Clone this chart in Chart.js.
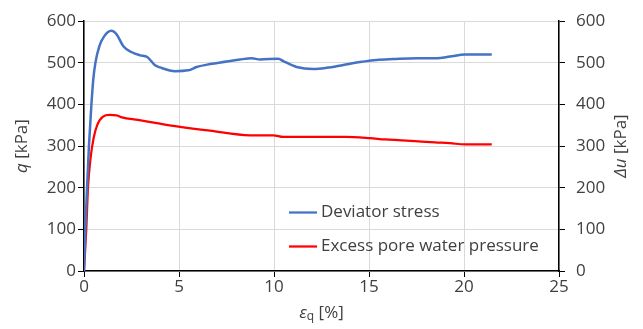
<!DOCTYPE html>
<html>
<head>
<meta charset="utf-8">
<script src="https://cdn.jsdelivr.net/npm/chart.js@4.4.1/dist/chart.umd.min.js"></script>
<style>
  html, body { margin: 0; padding: 0; background: #fff; }
  #wrap { width: 643px; height: 329px; position: relative; }
</style>
</head>
<body>
<div id="wrap"><canvas id="c" width="643" height="329"></canvas></div>
<script>
// Undrained triaxial test: deviator stress and excess pore water pressure vs shear strain
const strainDev = [0, 0.07, 0.16, 0.26, 0.39, 0.49, 0.6, 0.81, 1.05, 1.44, 1.72, 2.07, 2.49, 2.95, 3.33, 3.74, 4.0, 4.79, 5.49, 5.93, 6.63, 7.51, 8.21, 8.83, 9.26, 10.23, 10.49, 11.19, 12.07, 12.77, 13.65, 14.53, 15.4, 16.28, 17.51, 18.56, 19.26, 20.05, 21.46];
const deviatorStress = [0, 100, 200, 300, 400, 461, 500, 540, 563, 577, 568, 540, 526, 518, 514, 494, 489, 480, 482, 490, 497, 503, 508, 511, 508, 510, 504, 490, 485, 488, 495, 502, 507, 509, 511, 511, 515, 520, 520];

const strainPore = [0, 0.12, 0.21, 0.35, 0.51, 0.7, 1.0, 1.35, 1.72, 2.0, 2.84, 4.0, 4.97, 6.63, 8.74, 9.96, 10.49, 13.74, 15.05, 15.84, 16.72, 17.42, 18.47, 19.26, 20.05, 21.46];
const porePressure = [0, 100, 200, 273, 320, 351, 371, 375, 374, 369, 363, 354, 347, 337, 326, 326, 322, 322, 319, 316, 314, 312, 309, 307, 304, 304];

const xTicks = [0, 5, 10, 15, 20, 25];
const yTicks = [0, 100, 200, 300, 400, 500, 600];

const seriesLabels = ['Deviator stress', 'Excess pore water pressure'];
const seriesColors = ['#4472C4', '#FF0000'];

const FONT = 'Open Sans';
const TEXT = '#404040';
const FS = 17;

const toPoints = (xs, ys) => xs.map((x, i) => ({ x: x, y: ys[i] }));

// Axis titles with italic symbols and legend drawn inside the plot area
const annotations = {
  id: 'annotations',
  afterDraw(chart) {
    const ctx = chart.ctx;
    const area = chart.chartArea;
    ctx.save();
    ctx.fillStyle = TEXT;
    ctx.textBaseline = 'middle';

    const drawRuns = (runs, cx, cy, rot) => {
      ctx.save();
      ctx.translate(cx, cy);
      ctx.rotate(rot);
      let total = 0;
      runs.forEach(r => { ctx.font = r.font; total += ctx.measureText(r.text).width; });
      let x = -total / 2;
      ctx.textAlign = 'left';
      runs.forEach(r => {
        ctx.font = r.font;
        ctx.fillText(r.text, x, r.dy || 0);
        x += ctx.measureText(r.text).width;
      });
      ctx.restore();
    };

    const midY = (area.top + area.bottom) / 2;
    const midX = (area.left + area.right) / 2;
    drawRuns([
      { text: 'q', font: 'italic ' + FS + 'px ' + FONT },
      { text: ' [kPa]', font: FS + 'px ' + FONT }
    ], 22, midY, -Math.PI / 2);
    drawRuns([
      { text: 'Δu', font: 'italic ' + FS + 'px ' + FONT },
      { text: ' [kPa]', font: FS + 'px ' + FONT }
    ], 621, midY, -Math.PI / 2);
    drawRuns([
      { text: 'ε', font: 'italic ' + FS + 'px ' + FONT },
      { text: 'q', font: '12px ' + FONT, dy: 4 },
      { text: ' [%]', font: FS + 'px ' + FONT }
    ], midX, 313, 0);

    // legend
    const legendRows = [212.5, 246.5];
    chart.data.datasets.forEach((ds, i) => {
      const y = legendRows[i];
      ctx.strokeStyle = ds.borderColor;
      ctx.lineWidth = 2.25;
      ctx.beginPath();
      ctx.moveTo(289, y);
      ctx.lineTo(317, y);
      ctx.stroke();
      ctx.font = FS + 'px ' + FONT;
      ctx.textAlign = 'left';
      ctx.fillStyle = TEXT;
      ctx.fillText(ds.label, 321, y);
    });
    ctx.restore();
  }
};

new Chart(document.getElementById('c'), {
  type: 'line',
  data: {
    datasets: [
      {
        label: seriesLabels[0],
        data: toPoints(strainDev, deviatorStress),
        borderColor: seriesColors[0],
        borderWidth: 2.5,
        pointRadius: 0,
        cubicInterpolationMode: 'monotone',
        yAxisID: 'y'
      },
      {
        label: seriesLabels[1],
        data: toPoints(strainPore, porePressure),
        borderColor: seriesColors[1],
        borderWidth: 2.25,
        pointRadius: 0,
        cubicInterpolationMode: 'monotone',
        yAxisID: 'y2'
      }
    ]
  },
  options: {
    responsive: false,
    animation: false,
    layout: { padding: { top: 16, left: 0, right: 0, bottom: 0 } },
    plugins: { legend: { display: false }, tooltip: { enabled: false } },
    scales: {
      x: {
        type: 'linear',
        min: 0, max: 25,
        afterBuildTicks: s => { s.ticks = xTicks.map(v => ({ value: v })); },
        afterFit: s => { s.height = 58; },
        ticks: { color: TEXT, font: { family: FONT, size: FS }, padding: 0, maxRotation: 0 },
        grid: { color: '#D9D9D9', lineWidth: 1, tickColor: '#000', tickLength: 6 },
        border: { color: '#000', width: 1.5 }
      },
      y: {
        position: 'left',
        min: 0, max: 600,
        afterBuildTicks: s => { s.ticks = yTicks.map(v => ({ value: v })); },
        afterFit: s => { s.width = 84; },
        ticks: { color: TEXT, font: { family: FONT, size: FS }, padding: 2 },
        grid: { color: '#D9D9D9', lineWidth: 1, tickColor: '#000', tickLength: 6 },
        border: { color: '#000', width: 1.5 }
      },
      y2: {
        position: 'right',
        min: 0, max: 600,
        afterBuildTicks: s => { s.ticks = yTicks.map(v => ({ value: v })); },
        afterFit: s => { s.width = 84; },
        ticks: { color: TEXT, font: { family: FONT, size: FS }, padding: 11 },
        grid: { drawOnChartArea: false, tickColor: '#000', tickLength: 6 },
        border: { color: '#000', width: 1.5 }
      }
    }
  },
  plugins: [annotations]
});
</script>
</body>
</html>
